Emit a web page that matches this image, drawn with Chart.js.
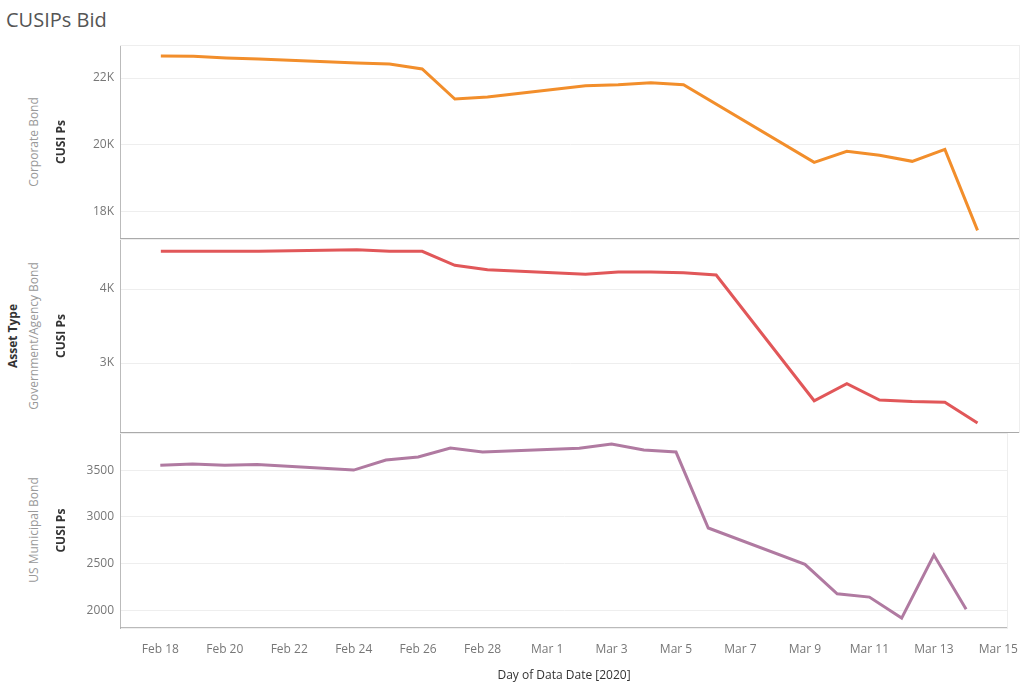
<!DOCTYPE html>
<html><head><meta charset="utf-8">
<script src="https://cdn.jsdelivr.net/npm/chart.js@4"></script>
<style>
body{margin:0;width:1024px;height:687px;background:#fff;font-family:"Open Sans",Arial,sans-serif;position:relative;overflow:hidden}
.c{position:absolute;left:50px;width:974px}
.lbl{position:absolute;transform:translate(-50%,-50%) rotate(-90deg);white-space:nowrap;font-size:12px}
</style></head><body>
<div style="position:absolute;left:6px;top:6px;font-size:20px;color:#555">CUSIPs Bid</div>
<div class="lbl" style="left:12px;top:336px;font-weight:bold;color:#333">Asset Type</div>
<div class="lbl" style="left:33px;top:142px;color:#999">Corporate Bond</div>
<div class="lbl" style="left:33px;top:336px;color:#999">Government/Agency Bond</div>
<div class="lbl" style="left:33px;top:530px;color:#999">US Municipal Bond</div>
<div class="c" style="top:0;height:245px"><canvas id="c1"></canvas></div>
<div class="c" style="top:239px;height:200px"><canvas id="c2"></canvas></div>
<div class="c" style="top:433px;height:254px"><canvas id="c3"></canvas></div>
<script>
const dates=["2020-02-18","2020-02-19","2020-02-20","2020-02-21","2020-02-24","2020-02-25","2020-02-26","2020-02-27","2020-02-28","2020-03-02","2020-03-03","2020-03-04","2020-03-05","2020-03-06","2020-03-09","2020-03-10","2020-03-11","2020-03-12","2020-03-13","2020-03-14"];
const corporate=[22660,22650,22600,22570,22450,22420,22270,21370,21430,21770,21800,21860,21800,null,19470,19800,19680,19500,19860,17430];
const government=[4510,4510,4510,4510,4530,4510,4510,4320,4260,4200,4230,4230,4220,4190,2490,2720,2500,2480,2470,2190];
const municipal=[3553,3564,3553,3560,3500,3607,3640,3735,3693,3735,3780,3715,3693,2880,2490,2175,2140,1915,2590,2010];
const tickLabels=["Feb 18","Feb 20","Feb 22","Feb 24","Feb 26","Feb 28","Mar 1","Mar 3","Mar 5","Mar 7","Mar 9","Mar 11","Mar 13","Mar 15"];
const base=Date.UTC(2020,1,18);
const dayIdx=d=>{const [y,m,dd]=d.split('-').map(Number);return (Date.UTC(y,m-1,dd)-base)/864e5;};
function mk(id,vals,color,ymin,ymax,yticks,fmt,top,bottom,showX){
  const pts=dates.map((d,i)=>({x:dayIdx(d),y:vals[i]})).filter(p=>p.y!==null);
  new Chart(document.getElementById(id),{type:'line',
    data:{datasets:[{data:pts,borderColor:color,borderWidth:3,pointRadius:0,tension:0}]},
    options:{responsive:true,maintainAspectRatio:false,animation:false,
      layout:{padding:{top:top,bottom:bottom,right:4,left:0}},
      plugins:{legend:{display:false},tooltip:{enabled:false}},
      scales:{
        x:{type:'linear',min:-1.25,max:26.3,display:showX,
          afterBuildTicks:s=>{s.ticks=tickLabels.map((t,i)=>({value:i*2}));},
          ticks:{callback:(v,i)=>tickLabels[i],color:'#777',font:{size:12,family:'Open Sans'},maxRotation:0,autoSkip:false,padding:6},
          grid:{display:false,drawTicks:true,tickLength:8,color:'#ddd'},border:{display:false},
          title:{display:true,text:'Day of Data Date [2020]',color:'#333',font:{size:12,family:'Open Sans'},padding:{top:6}}},
        y:{min:ymin,max:ymax,
          afterBuildTicks:s=>{s.ticks=yticks.map(v=>({value:v}));},
          afterFit:s=>{s.width=70;s.paddingTop=0;s.paddingBottom=0;},
          ticks:{callback:fmt,color:'#777',font:{size:12,family:'Open Sans'},padding:6},
          grid:{color:'#eee',drawTicks:false},border:{display:true,color:'#bbb'},
          title:{display:true,text:'CUSI Ps',color:'#333',font:{size:12,weight:'bold',family:'Open Sans'},padding:{bottom:4}}}
      }},
    plugins:[{id:'frame',afterDraw(c){const a=c.chartArea,x=c.ctx;x.save();x.strokeStyle='#aaa';x.lineWidth=1;
      x.beginPath();x.moveTo(a.left,a.bottom-0.5);x.lineTo(a.right,a.bottom-0.5);x.stroke();
      x.strokeStyle='#eee';x.beginPath();x.moveTo(a.right-0.5,a.top);x.lineTo(a.right-0.5,a.bottom);x.moveTo(a.left,a.top+0.5);x.lineTo(a.right,a.top+0.5);x.stroke();x.restore();}}]
  });
}
const k=v=>(v/1000)+'K';
mk('c1',corporate,'#f28e2b',17170,22990,[18000,20000,22000],k,45,6,false);
mk('c2',government,'#e15759',2054,4676,[3000,4000],k,0,6,false);
mk('c3',municipal,'#b07aa1',1807,3897,[2000,2500,3000,3500],v=>String(v),0,0,true);
</script>
</body></html>
